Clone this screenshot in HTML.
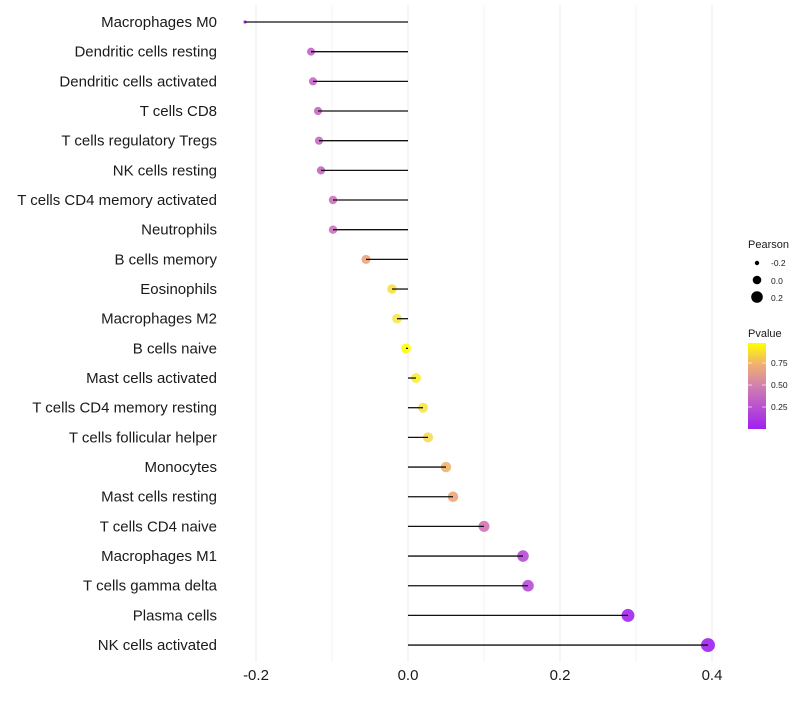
<!DOCTYPE html>
<html><head><meta charset="utf-8"><style>
body{margin:0;background:#fff}
svg text{font-family:"Liberation Sans",sans-serif}
</style></head><body>
<svg width="800" height="700" xmlns="http://www.w3.org/2000/svg">
<defs><linearGradient id="g" x1="0" y1="1" x2="0" y2="0">
<stop offset="0" stop-color="#a020f0"/><stop offset="0.5" stop-color="#d080b0"/><stop offset="0.75" stop-color="#f0b070"/><stop offset="1" stop-color="#ffff00"/></linearGradient></defs>
<g stroke="#ebebeb" stroke-width="1">
<line x1="256" y1="5" x2="256" y2="662"/><line x1="332" y1="5" x2="332" y2="662" stroke="#f3f3f3"/>
<line x1="408" y1="5" x2="408" y2="662"/><line x1="484" y1="5" x2="484" y2="662" stroke="#f3f3f3"/>
<line x1="560" y1="5" x2="560" y2="662"/><line x1="636" y1="5" x2="636" y2="662" stroke="#f3f3f3"/>
<line x1="712" y1="5" x2="712" y2="662"/>
</g>
<g id="pts"></g>
<g id="lines" stroke="#111" stroke-width="1.3"></g>
<g id="labels" font-size="15" fill="#1a1a1a" text-anchor="end" style="white-space:pre"></g>
<g font-size="15" fill="#1a1a1a" text-anchor="middle">
<text x="256" y="680">-0.2</text><text x="408" y="680">0.0</text><text x="560" y="680">0.2</text><text x="712" y="680">0.4</text>
</g>
<g font-size="11" fill="#1a1a1a">
<text x="748" y="248">Pearson</text>
<circle cx="757" cy="263" r="2.2" fill="#000"/><text x="771" y="266" font-size="8.5">-0.2</text>
<circle cx="757" cy="280" r="4.3" fill="#000"/><text x="771" y="284" font-size="8.5">0.0</text>
<circle cx="757" cy="297" r="5.8" fill="#000"/><text x="771" y="301" font-size="8.5">0.2</text>
<text x="748" y="337">Pvalue</text>
<rect x="748" y="343" width="18" height="86" fill="url(#g)"/>
<g stroke="#fff" stroke-width="0.8" opacity="0.8"><line x1="748" y1="363" x2="752" y2="363"/><line x1="762" y1="363" x2="766" y2="363"/><line x1="748" y1="385" x2="752" y2="385"/><line x1="762" y1="385" x2="766" y2="385"/><line x1="748" y1="407" x2="752" y2="407"/><line x1="762" y1="407" x2="766" y2="407"/></g>
<text x="771" y="366" font-size="8.5">0.75</text><text x="771" y="388" font-size="8.5">0.50</text><text x="771" y="410" font-size="8.5">0.25</text>
</g>
<script>
var d=[["Macrophages M0",245,"#a020f0"],["Dendritic cells resting",311,"#c462c8"],["Dendritic cells activated",313,"#c866c6"],["T cells CD8",318,"#c868c4"],["T cells regulatory  Tregs",319,"#c868c4"],["NK cells resting",321,"#c464c8"],["T cells CD4 memory activated",333,"#cc72bc"],["Neutrophils",333,"#cc72bc"],["B cells memory",366,"#eba47c"],["Eosinophils",392,"#f8e040"],["Macrophages M2",397,"#fae64c"],["B cells naive",406,"#ffff00"],["Mast cells activated",416,"#fcee30"],["T cells CD4 memory resting",423,"#f8e448"],["T cells follicular helper",428,"#f6da58"],["Monocytes",446,"#efb46c"],["Mast cells resting",453,"#eca67a"],["T cells CD4 naive",484,"#d272b6"],["Macrophages M1",523,"#b84cd8"],["T cells gamma delta",528,"#b84cd8"],["Plasma cells",628,"#a426ec"],["NK cells activated",708,"#a020f0"]];
var ns="http://www.w3.org/2000/svg",P=document.getElementById("pts"),L=document.getElementById("lines"),T=document.getElementById("labels");
d.forEach(function(r,i){var y=22+i*29.67,v=(r[1]-408)/762;
var rad=i==0?1.6:Math.sqrt(Math.max(13,24+62*v));
var c=document.createElementNS(ns,"circle");c.setAttribute("cx",r[1]);c.setAttribute("cy",y);c.setAttribute("r",rad);c.setAttribute("fill",r[2]);c.setAttribute("fill-opacity","0.9");P.appendChild(c);
var l=document.createElementNS(ns,"line");l.setAttribute("x1",408);l.setAttribute("x2",r[1]);l.setAttribute("y1",y);l.setAttribute("y2",y);L.appendChild(l);
var t=document.createElementNS(ns,"text");t.setAttribute("x",217);t.setAttribute("y",y+5);t.textContent=r[0];T.appendChild(t);});
</script>
</svg>
</body></html>
